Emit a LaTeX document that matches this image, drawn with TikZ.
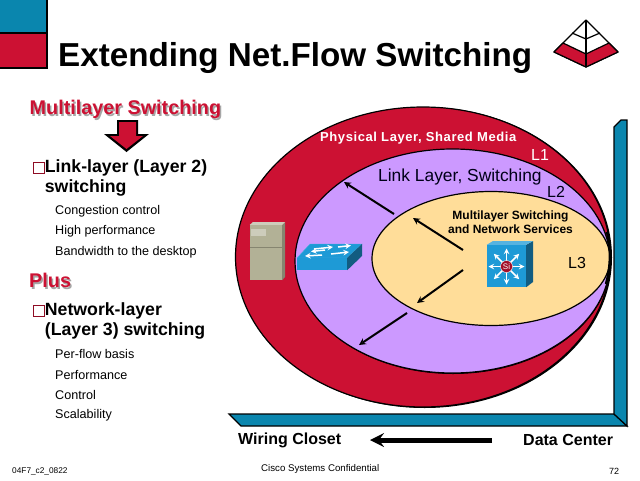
\documentclass[tikz,border=0pt]{standalone}
\usepackage{fontspec}
\setmainfont{Liberation Sans}
\usetikzlibrary{positioning,shapes.geometric}

\definecolor{ciscored}{HTML}{CC1133}
\definecolor{ciscoteal}{HTML}{0A86AE}
\definecolor{linkpurple}{HTML}{CC99FF}
\definecolor{coreyellow}{HTML}{FFDD99}
\definecolor{switchblue}{HTML}{1E9AD6}
\definecolor{serverbody}{HTML}{B2B196}

\tikzstyle{layer} = [ellipse, inner sep=0pt, draw=black, line width=1.2pt]
\tikzstyle{backing} = [ellipse, inner sep=0pt, fill=black]
\tikzstyle{frame} = [fill=ciscoteal, draw=black, line width=1.2pt]
\tikzstyle{label} = [anchor=west, inner sep=0pt, text=black]
\tikzstyle{heading} = [label, font=\bfseries\fontsize{17.7}{17.7}\selectfont]
\tikzstyle{subitem} = [label, font=\fontsize{12.6}{12.6}\selectfont]
\tikzstyle{redhead} = [label, font=\bfseries\fontsize{19.8}{19.8}\selectfont, text=ciscored]
\tikzstyle{redshadow} = [label, font=\bfseries\fontsize{19.8}{19.8}\selectfont, text=black!35]
\tikzstyle{tag} = [label, font=\fontsize{16}{16}\selectfont]
\tikzstyle{foot} = [label, font=\fontsize{9}{9}\selectfont]
\tikzstyle{arrow} = [line width=2pt,->,>=stealth]
\tikzstyle{whitearrow} = [line width=1.5pt,->,>=stealth,white]

\begin{document}
\begin{tikzpicture}[x=1pt, y=-1pt]
	\useasboundingbox (0,0) rectangle (640,480);
	% Corner blocks and pyramid
	\fill [black] (0,0) rectangle (48,69);
	\fill [ciscoteal] (0,0) rectangle (45.5,31.5);
	\fill [ciscored] (0,34) rectangle (45.5,66.5);
	\draw [fill=white, line width=1.2pt, line join=round] (586,20) -- (554,52) -- (586,67) -- (618,52) -- cycle;
	\draw [fill=ciscored, line width=1.2pt, line join=round] (563,43) -- (554,52) -- (586,67) -- (618,52) -- (609,43) -- (586,54) -- cycle;
	\draw [line width=1.2pt] (572,33) -- (586,39) -- (600,33);
	\draw [line width=1.2pt] (586,20) -- (586,67);
	% Frame
	\draw [frame] (229,414) -- (614,414) -- (627,426) -- (241,426) -- cycle;
	\draw [frame] (614,414) -- (614,127) -- (621,120) -- (627,120) -- (627,426) -- cycle;
	% Place layers
	\node [backing, minimum width=375pt, minimum height=301pt] at (424.5,257.5) {};
	\node [layer, fill=ciscored, minimum width=375pt, minimum height=300pt] (L1) at (423,257) {};
	\node [backing, minimum width=315pt, minimum height=225pt] at (453,261.5) {};
	\node [layer, fill=linkpurple, minimum width=315pt, minimum height=224pt] (L2) at (452.5,261) {};
	\node [layer, fill=coreyellow, minimum width=238pt, minimum height=134pt] (L3) at (491,258.5) {};
	\draw [line width=2.5pt] (607,232) .. controls (611,248) and (611,266) .. (606,284);
	% Server
	\node [rectangle, minimum width=32pt, minimum height=55pt, inner sep=0pt, fill=serverbody] (server) at (266,252.5) {};
	\fill [serverbody!75!black] (server.north east) -- (285,222) -- (285,277) -- (server.south east) -- cycle;
	\fill [serverbody!65!white] (server.north west) -- (253,222) -- (285,222) -- (server.north east) -- cycle;
	\fill [serverbody!65!white] (251,229) rectangle (266,236);
	\draw [serverbody!75!black] (250,247) -- (282,247);
	% Workgroup switch
	\draw [fill=switchblue, draw=switchblue!80!white] (297,258) -- (310,244) -- (362,244) -- (347,258) -- cycle;
	\node [rectangle, minimum width=50pt, minimum height=12pt, inner sep=0pt, fill=switchblue] (switch) at (322,264) {};
	\fill [switchblue!60!black] (switch.north east) -- (362,244) -- (362,256) -- (switch.south east) -- cycle;
	\draw [whitearrow] (314,249) -- (333,247);
	\draw [whitearrow] (338,247) -- (351,245.5);
	\draw [whitearrow] (325,250) -- (311,251.5);
	\draw [whitearrow] (322,255) -- (305,256);
	\draw [whitearrow] (331,254) -- (349,252);
	% Multilayer switch
	\node [rectangle, minimum width=39pt, minimum height=42pt, inner sep=0pt, fill=switchblue] (core) at (506.5,266) {};
	\fill [switchblue!60!black] (core.north east) -- (533,241) -- (533,282) -- (core.south east) -- cycle;
	\fill [switchblue!75!white] (core.north west) -- (493,241) -- (533,241) -- (core.north east) -- cycle;
	\foreach \ang in {0,45,...,315}
		\draw [whitearrow] (506.5,266.5) -- ++(\ang:18);
	\node [circle, fill=ciscored!80!black, draw=white, minimum size=12pt, inner sep=0pt, text=white, font=\fontsize{8}{8}\selectfont] (si) at (506.5,266.5) {Si};
	% Place left column
	\node [label, font=\bfseries\fontsize{33.2}{33.2}\selectfont] (title) at (58,57.5) {Extending Net.Flow Switching};
	\node [redshadow] at (31,111) {Multilayer Switching};
	\node [redhead] (multilayer) at (29.5,109.5) {Multilayer Switching};
	\fill [black] (117,120) rectangle (138,134) (104,134) -- (149,134) -- (126.5,152) -- cycle;
	\fill [ciscored] (119,122) rectangle (136,136) (110,136) -- (143,136) -- (126.5,149) -- cycle;
	\node [rectangle, draw=ciscored!70!black, fill=white, minimum size=11pt, inner sep=0pt] (boxa) at (38.5,168) {};
	\node [heading, right=0.5pt of boxa] (linklayer) {Link-layer (Layer 2)};
	\node [heading, below=19.5pt of linklayer.west, anchor=west] (switching) {switching};
	\node [subitem] (congestion) at (55,211) {Congestion control};
	\node [subitem, below=20.5pt of congestion.west, anchor=west] (highperf) {High performance};
	\node [subitem, below=20.5pt of highperf.west, anchor=west] (bandwidth) {Bandwidth to the desktop};
	\node [redshadow] at (30.5,282) {Plus};
	\node [redhead] (plus) at (29,280.5) {Plus};
	\node [rectangle, draw=ciscored!70!black, fill=white, minimum size=11pt, inner sep=0pt] (boxb) at (38.5,311) {};
	\node [heading, right=0.5pt of boxb] (networklayer) {Network-layer};
	\node [heading, below=20pt of networklayer.west, anchor=west] (layerthree) {(Layer 3) switching};
	\node [subitem] (perflow) at (55,354) {Per-flow basis};
	\node [subitem, below=20.5pt of perflow.west, anchor=west] (performance) {Performance};
	\node [subitem, below=20.5pt of performance.west, anchor=west] (control) {Control};
	\node [subitem, below=20.5pt of control.west, anchor=west] (scalability) {Scalability};
	% Place layer labels
	\node [label, text=white, font=\bfseries\fontsize{13}{13}\selectfont\addfontfeature{LetterSpace=4.5}] (physical) at (320,138.5) {Physical Layer, Shared Media};
	\node [tag, text=white] (labelone) at (531,155) {L1};
	\node [tag, text=black!90!blue, font=\fontsize{17.4}{17.4}\selectfont] (linklabel) at (378,177) {Link Layer, Switching};
	\node [tag, text=black!90!blue] (labeltwo) at (547,192) {L2};
	\node [label, font=\bfseries\fontsize{12}{12}\selectfont, align=center, anchor=center] (services) at (510.5,222.5) {Multilayer Switching\\[2pt]and Network Services};
	\node [tag] (labelthree) at (568,263) {L3};
	% Bottom row
	\node [tag, font=\bfseries\fontsize{16}{16}\selectfont] (wiring) at (238,440) {Wiring Closet};
	\node [tag, font=\bfseries\fontsize{16}{16}\selectfont] (datacenter) at (523,440) {Data Center};
	\node [foot, font=\fontsize{8.3}{8.3}\selectfont] (code) at (12,471) {04F7\_c2\_0822};
	\node [foot, font=\fontsize{9.7}{9.7}\selectfont] (confidential) at (261,469) {Cisco Systems Confidential};
	\node [foot] (page) at (609,471) {72};
	\coordinate (linkfrom) at (394,214);
	\coordinate (linkto) at (344,182);
	\coordinate (upfrom) at (463,250);
	\coordinate (upto) at (413,218);
	\coordinate (downfrom) at (463,270);
	\coordinate (downto) at (417,303);
	\coordinate (lowfrom) at (407,313);
	\coordinate (lowto) at (359,345);
	% Draw edges
	\draw [arrow] (linkfrom) -- (linkto);
	\draw [arrow] (upfrom) -- (upto);
	\draw [arrow] (downfrom) -- (downto);
	\draw [arrow] (lowfrom) -- (lowto);
	\draw [arrow, line width=5pt] (datacenter.west) ++(-31,0) -- (370,440);
\end{tikzpicture}
\end{document}
